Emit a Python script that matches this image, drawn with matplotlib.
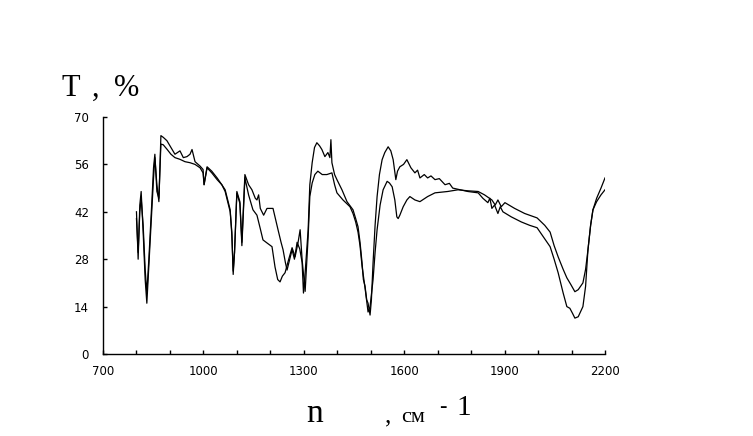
import matplotlib
matplotlib.use("Agg")
import matplotlib.pyplot as plt
from matplotlib.ticker import MultipleLocator

# ---- data (wavenumber, cm-1 ; transmittance, %) ----
wn_a = [800, 805, 810, 814, 820, 826, 831, 837, 846, 851, 855, 861, 867, 873, 880,
        891, 903, 915, 930, 940, 951, 960, 966, 975, 990, 999, 1002, 1011, 1025,
        1041, 1055, 1065, 1080, 1085, 1089, 1093, 1100, 1109, 1115, 1124, 1135,
        1145, 1155, 1160, 1165, 1170, 1180, 1190, 1199, 1208, 1215, 1223, 1232,
        1238, 1245, 1250, 1258, 1265, 1272, 1280, 1288, 1295, 1299, 1304, 1313,
        1318, 1325, 1332, 1339, 1347, 1354, 1363, 1372, 1378, 1381, 1384, 1392,
        1399, 1414, 1429, 1440, 1447, 1455, 1462, 1468, 1474, 1478, 1483, 1488,
        1492, 1498, 1502, 1507, 1513, 1519, 1526, 1534, 1542, 1552, 1560, 1567,
        1575, 1580, 1587, 1598, 1608, 1620, 1632, 1640, 1647, 1660, 1670, 1680,
        1692, 1705, 1722, 1735, 1745, 1767, 1790, 1821, 1835, 1850, 1856, 1862,
        1870, 1880, 1887, 1895, 1920, 1950, 1975, 1997, 2020, 2036, 2048, 2060,
        2075, 2086, 2095, 2103, 2110, 2120, 2134, 2142, 2149, 2157, 2164, 2175,
        2188, 2200]
t_a = [42, 28, 44, 48, 36, 22, 15, 26, 43, 52, 58, 50, 45, 64.5, 64,
       63, 61, 59, 60, 58, 58.3, 59, 60.4, 56.8, 55.5, 54.5, 50, 55.3, 54,
       52, 50, 48.5, 42.6, 35, 24.5, 30, 48, 45, 33, 53, 50,
       48.5, 46, 45.5, 47, 43, 41, 43, 43, 43, 40, 36.7, 33,
       30.8, 27, 24.8, 28, 30.8, 28, 33, 31, 27, 18, 24, 36.7,
       50, 56.5, 61, 62.4, 61.5, 60.4, 58.3, 59.5, 58, 63.3, 56.5, 53,
       51.5, 48.5, 45, 43.5, 42.6, 40, 37.6, 33, 27, 22, 20, 16,
       15, 11.5, 16, 27, 38, 46.5, 53, 57.4, 59.5, 61.2, 60, 57.4,
       51.5, 54, 55.3, 56, 57.4, 55, 53.5, 54.3, 52, 53, 52, 52.6,
       51.5, 51.8, 50, 50.4, 49, 48.5, 48, 47.6, 46, 44.7, 46, 43,
       44, 41.5, 43.5, 42, 40.5, 39, 38, 37.3, 34, 31.7, 28, 24,
       18, 14, 13.5, 12, 10.6, 11, 14, 20, 30.7, 38, 42.6, 46,
       49, 52]

wn_b = [800, 805, 810, 814, 820, 826, 831, 837, 846, 851, 855, 861, 867, 873, 880,
        891, 903, 915, 930, 945, 960, 975, 990, 999, 1002, 1011, 1025, 1041,
        1055, 1065, 1080, 1085, 1089, 1093, 1100, 1109, 1115, 1124, 1135, 1148,
        1160, 1170, 1178, 1190, 1205, 1214, 1222, 1229, 1236, 1244, 1255, 1265,
        1274, 1283, 1289, 1295, 1304, 1313, 1318, 1325, 1333, 1342, 1355, 1369,
        1384, 1392, 1399, 1417, 1438, 1447, 1455, 1462, 1468, 1474, 1483, 1492,
        1498, 1507, 1513, 1519, 1528, 1537, 1549, 1556, 1564, 1572, 1578, 1582,
        1587, 1597, 1608, 1617, 1632, 1647, 1670, 1692, 1730, 1761, 1790, 1821,
        1840, 1862, 1872, 1880, 1890, 1901, 1930, 1960, 1997, 2020, 2036, 2048,
        2060, 2075, 2086, 2098, 2110, 2120, 2134, 2142, 2149, 2157, 2164, 2175,
        2188, 2200]
t_b = [40, 30, 42, 46, 38, 25, 18, 28, 45, 55, 59, 48, 46, 62, 61.8,
       60.5, 59, 58, 57.5, 56.8, 56.5, 56, 55, 53.5, 50, 55, 53.5, 51.5,
       50, 48, 42, 36, 23.5, 30, 47.5, 44.5, 32, 52, 47, 42.6,
       41, 37, 33.7, 32.8, 31.7, 25.7, 22, 21.3, 23, 24, 28, 31.4,
       28.7, 33, 36.7, 27.8, 18.5, 34.6, 46.5, 50.5, 53, 54, 53, 53,
       53.5, 50, 47.6, 45.5, 43.5, 41.5, 39, 36, 32, 26, 19.5, 12.4,
       14, 22, 30, 36.7, 44, 48.5, 51, 50.5, 49.4, 45.5, 40.5, 40,
       41, 43.5, 45.5, 46.5, 45.5, 45, 46.5, 47.6, 48, 48.5, 48.2, 48,
       47, 45.5, 44, 45.5, 43.5, 44.7, 43, 41.5, 40.2, 38, 36, 32,
       28.7, 25, 22.5, 20.5, 18.4, 19, 21, 25, 30.7, 38, 42.6, 45,
       47, 48.5]

x_ticks = [700, 1000, 1300, 1600, 1900, 2200]
y_ticks = [0, 14, 28, 42, 56, 70]

W, H = 753, 436
fig = plt.figure(figsize=(W / 100, H / 100), dpi=100)
ax = fig.add_axes([103 / W, (H - 354) / H, (605 - 103) / W, (354 - 117) / H])

ax.plot(wn_a, t_a, color="black", lw=0.9)
ax.plot(wn_b, t_b, color="black", lw=0.9)

ax.set_xlim(700, 2200)
ax.set_ylim(0, 70)
ax.set_xticks(x_ticks)
ax.set_xticklabels([str(v) for v in x_ticks])
ax.xaxis.set_minor_locator(MultipleLocator(100))
ax.set_yticks(y_ticks)
ax.set_yticklabels([str(v) for v in y_ticks])

for s in ("top", "right"):
    ax.spines[s].set_visible(False)
for s in ("left", "bottom"):
    ax.spines[s].set_linewidth(1.0)

ax.tick_params(axis="x", which="major", direction="in", length=3, width=1,
               pad=8, labelsize=8.5)
ax.tick_params(axis="x", which="minor", direction="in", length=3, width=1)
ax.tick_params(axis="y", which="major", direction="in", length=3, width=1,
               pad=10, labelsize=8.5)

serif = "Liberation Serif"


def px(x, y):
    return x / W, 1 - y / H


fig.text(*px(62, 96), "T", family=serif, fontsize=22, va="baseline")
fig.text(*px(92, 96), ",", family=serif, fontsize=22, va="baseline")
fig.text(*px(114, 96), "%", family=serif, fontsize=22, va="baseline")

fig.text(*px(306, 422), "n", family=serif, fontsize=24, va="baseline")
fig.text(*px(385, 422), ",", family=serif, fontsize=18, va="baseline")
fig.text(*px(401, 422), "см", family=serif, fontsize=16, va="baseline")
fig.text(*px(439, 412), "-", family=serif, fontsize=16, va="baseline")
fig.text(*px(456, 415), "1", family=serif, fontsize=21, va="baseline")

fig.savefig("out.png", dpi=100)
